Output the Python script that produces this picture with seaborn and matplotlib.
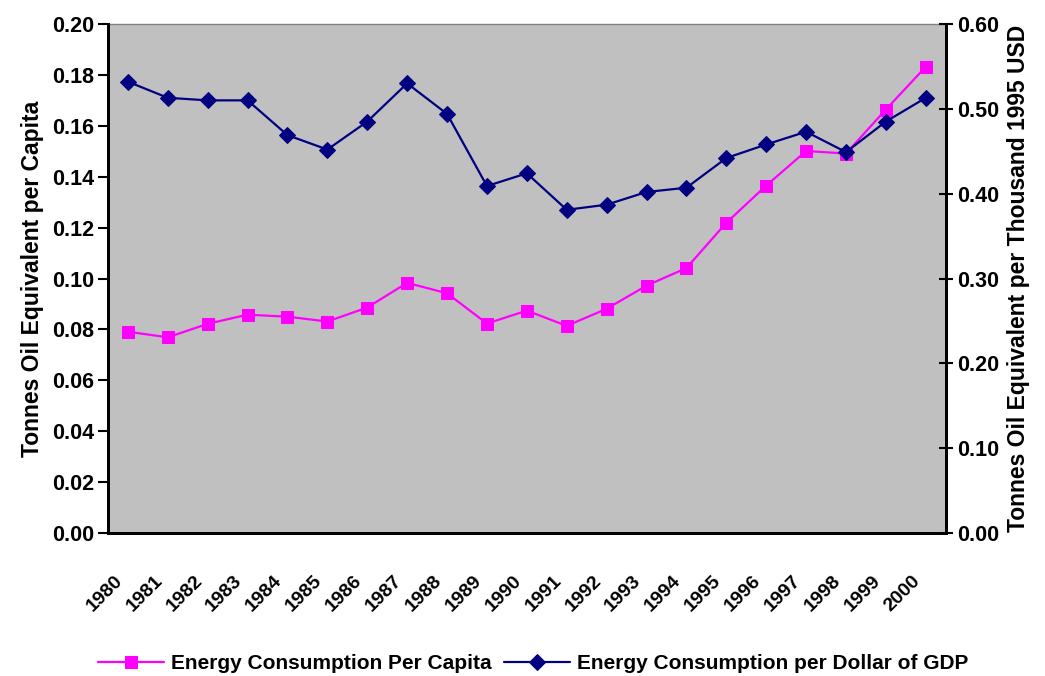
import numpy as np
import pandas as pd
import matplotlib
matplotlib.use("Agg")
import matplotlib.pyplot as plt
import matplotlib.transforms as mtransforms
import seaborn as sns

# --- data ---
years = list(range(1980, 2001))
per_capita = [0.0791, 0.0769, 0.0822, 0.0858, 0.0850, 0.0831, 0.0886, 0.0983, 0.0942, 0.0823,
              0.0874, 0.0814, 0.0881, 0.0972, 0.1041, 0.1219, 0.1365, 0.1501, 0.1491, 0.1664,
              0.1832]
per_gdp = [0.532, 0.513, 0.510, 0.510, 0.469, 0.452, 0.485, 0.530, 0.494, 0.409,
           0.424, 0.381, 0.387, 0.402, 0.407, 0.442, 0.458, 0.473, 0.449, 0.485,
           0.513]
left_ticks = [0.00, 0.02, 0.04, 0.06, 0.08, 0.10, 0.12, 0.14, 0.16, 0.18, 0.20]
right_ticks = [0.00, 0.10, 0.20, 0.30, 0.40, 0.50, 0.60]

df = pd.DataFrame({'year': years, 'per_capita': per_capita, 'per_gdp': per_gdp})

sns.set_style('white')
plt.rcParams['font.family'] = ['Liberation Sans', 'DejaVu Sans']
plt.rcParams['font.weight'] = 'bold'
plt.rcParams['text.color'] = 'black'
plt.rcParams['axes.labelcolor'] = 'black'
plt.rcParams['xtick.color'] = 'black'
plt.rcParams['ytick.color'] = 'black'

fig = plt.figure(figsize=(10.45, 6.76), dpi=100)
ax = fig.add_axes([0.1033, 0.2115, 0.8017, 0.753])
ax2 = ax.twinx()

sns.lineplot(data=df, x='year', y='per_capita', ax=ax, color='#FF00FF', lw=1.6,
             marker='s', markersize=8, markerfacecolor='#FF00FF', markeredgecolor='#FF00FF',
             label='Energy Consumption Per Capita', legend=False)
sns.lineplot(data=df, x='year', y='per_gdp', ax=ax2, color='#000080', lw=1.6,
             marker='D', markersize=8, markerfacecolor='#000080', markeredgecolor='#000080',
             label='Energy Consumption per Dollar of GDP', legend=False)

ax.set_facecolor('#C0C0C0')
ax.set_xlim(1979.5, 2000.5)
ax.set_ylim(0, 0.2)
ax2.set_ylim(0, 0.6)
ax.set_yticks(left_ticks)
ax.set_yticklabels([f'{v:.2f}' for v in left_ticks], fontweight='bold')
ax2.set_yticks(right_ticks)
ax2.set_yticklabels([f'{v:.2f}' for v in right_ticks], fontweight='bold')

# year labels at category centres, tick marks at boundaries
ax.set_xticks(years)
ax.set_xticklabels([str(y) for y in years])
ax.set_xticks(np.arange(1979.5, 2001.0, 1.0), minor=True)
ax.tick_params(axis='x', which='major', length=0, pad=28, labelsize=14)
ax.tick_params(axis='x', which='minor', length=10, width=1.5, direction='inout', color='black')
ax.tick_params(axis='y', length=7, width=1.5, direction='out', color='black', labelsize=15.5,
               left=True, pad=3)
ax2.tick_params(axis='y', length=10, width=1.5, direction='inout', color='black', labelsize=15.5,
                right=True, pad=3)

shift = mtransforms.ScaledTranslation(-14 / 100, 0, fig.dpi_scale_trans)
for lab in ax.get_xticklabels():
    lab.set_rotation(45)
    lab.set_ha('right')
    lab.set_va('top')
    lab.set_rotation_mode('anchor')
    lab.set_transform(lab.get_transform() + shift)
    lab.set_fontweight('bold')

for a in (ax, ax2):
    for s in a.spines.values():
        s.set_color('black')
        s.set_linewidth(2)
ax.spines['top'].set_color('#808080')
ax.spines['top'].set_linewidth(1)
ax2.spines['top'].set_visible(False)

ax.set_xlabel('')
ax.set_ylabel('Tonnes Oil Equivalent per Capita', fontsize=16.5, fontweight='bold', labelpad=6)
ax2.set_ylabel('Tonnes Oil Equivalent per Thousand 1995 USD', fontsize=16.5, fontweight='bold', labelpad=6)

h1, l1 = ax.get_legend_handles_labels()
h2, l2 = ax2.get_legend_handles_labels()
fig.legend(h1 + h2, l1 + l2, loc='center', bbox_to_anchor=(0.51, 0.018), ncol=2,
           frameon=False, handlelength=3.2, handletextpad=0.3, columnspacing=0.6,
           prop={'weight': 'bold', 'size': 15})

fig.savefig('out.png', dpi=100)
